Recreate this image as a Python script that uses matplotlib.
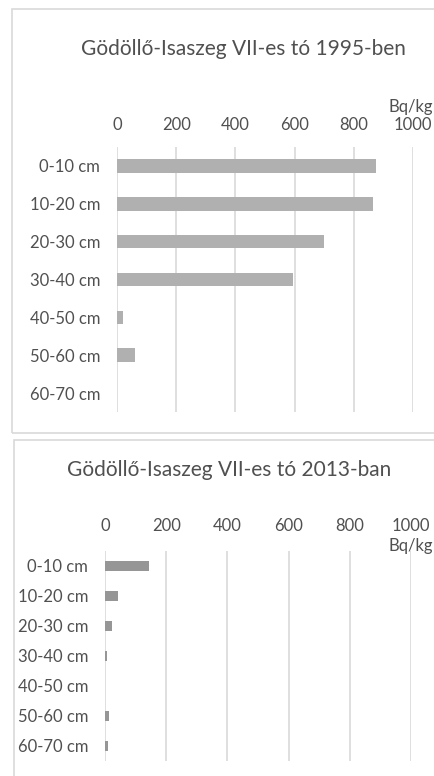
import matplotlib
matplotlib.use("Agg")
import matplotlib.pyplot as plt
from matplotlib.patches import Rectangle

plt.rcParams['font.family'] = ['Lato', 'DejaVu Sans']

# Data
depths = ["0-10 cm", "10-20 cm", "20-30 cm", "30-40 cm", "40-50 cm", "50-60 cm", "60-70 cm"]
activity_1995 = [875, 865, 700, 595, 19, 60, 0]
activity_2013 = [145, 43, 22, 7, 0, 13, 11]
x_ticks = [0, 200, 400, 600, 800, 1000]
title_1995 = "Gödöllő-Isaszeg VII-es tó 1995-ben"
title_2013 = "Gödöllő-Isaszeg VII-es tó 2013-ban"
unit = "Bq/kg"

W, H = 435, 776
fig = plt.figure(figsize=(W / 100, H / 100), dpi=100)
fig.patch.set_facecolor("white")

TEXT = "#505050"
GRID = "#d9d9d9"
BORDER = "#d9d9d9"
FS = 12


def px_axes(left, top, right, bottom):
    return fig.add_axes([left / W, 1 - bottom / H, (right - left) / W, (bottom - top) / H])


def frame(left, top, right, bottom):
    fig.patches.append(Rectangle((left / W, 1 - bottom / H), (right - left) / W, (bottom - top) / H,
                                 transform=fig.transFigure, fill=False, edgecolor=BORDER, lw=1.2))


def bar_panel(ax, values, color, bar_h, label_pad, tick_pad):
    y = list(range(len(depths)))
    ax.barh(y, values, height=bar_h, color=color, zorder=3)
    ax.set_xlim(0, 1000)
    ax.set_ylim(len(depths) - 0.5, -0.5)
    ax.set_xticks(x_ticks)
    ax.set_yticks(y)
    ax.set_yticklabels(depths)
    ax.xaxis.tick_top()
    ax.tick_params(axis="x", length=0, pad=tick_pad, labelsize=FS, labelcolor=TEXT)
    ax.tick_params(axis="y", length=0, pad=label_pad, labelsize=FS, labelcolor=TEXT)
    ax.grid(axis="x", color=GRID, lw=1.2, zorder=0)
    for s in ax.spines.values():
        s.set_visible(False)


# Panel 1995
frame(12, 9, 440, 433)
ax1 = px_axes(117, 147, 413, 412)
bar_panel(ax1, activity_1995, "#b0b0b0", 0.36, 12, 10)
fig.text(243 / W, 1 - 49 / H, title_1995, ha="center", va="center", fontsize=15, color=TEXT)
fig.text(389 / W, 1 - 107 / H, unit, ha="left", va="center", fontsize=FS, color=TEXT)

# Panel 2013
frame(14, 440, 440, 790)
ax2 = px_axes(105, 551, 411, 761)
bar_panel(ax2, activity_2013, "#969696", 0.34, 12, 12)
fig.text(229 / W, 1 - 470 / H, title_2013, ha="center", va="center", fontsize=15, color=TEXT)
fig.text(389 / W, 1 - 546 / H, unit, ha="left", va="center", fontsize=FS, color=TEXT)

fig.savefig("out.png", dpi=100, facecolor="white")
